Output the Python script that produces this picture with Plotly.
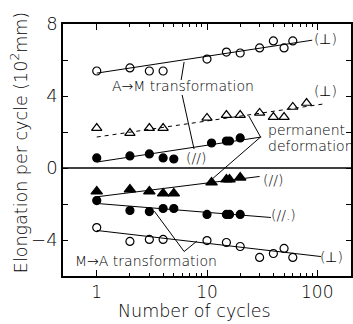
import math
import plotly.graph_objects as go

# Elongation per cycle (x10^2 mm) versus number of thermal cycles
cycles_am_perp = [1, 2, 3, 4, 10, 15, 20, 30, 40, 50, 60]
elong_am_perp = [5.39, 5.56, 5.39, 5.39, 6.05, 6.44, 6.39, 6.67, 7.06, 6.67, 7.06]

cycles_perm_perp = [1, 2, 3, 4, 10, 15, 20, 30, 40, 50, 60, 80]
elong_perm_perp = [2.22, 1.94, 2.22, 2.22, 2.78, 2.94, 2.94, 3.06, 2.83, 2.83, 3.39, 3.61]

cycles_am_par = [1, 2, 3, 4, 5, 11, 15, 16, 20]
elong_am_par = [0.56, 0.67, 0.78, 0.56, 0.5, 1.39, 1.5, 1.5, 1.67]

cycles_perm_par = [1, 2, 3, 4, 5, 11, 15, 16, 20]
elong_perm_par = [-1.3, -1.19, -1.3, -1.41, -1.41, -0.8, -0.64, -0.64, -0.53]

cycles_ma_par = [1, 2, 3, 4, 5, 10, 15, 16, 20]
elong_ma_par = [-1.81, -2.36, -2.42, -2.25, -2.25, -2.58, -2.58, -2.58, -2.58]

cycles_ma_perp = [1, 2, 3, 4, 10, 15, 20, 30, 40, 50, 60]
elong_ma_perp = [-3.31, -4.08, -3.97, -3.97, -4.03, -4.14, -4.36, -4.97, -4.75, -4.47, -4.97]

# straight trend lines (end points, log-x)
fit_am_perp_n, fit_am_perp_y = [1, 90], [5.27, 7.1]
fit_perm_perp_n, fit_perm_perp_y = [1, 115], [1.72, 3.56]
fit_am_par_n, fit_am_par_y = [1, 31], [0.33, 1.72]
fit_perm_par_n, fit_perm_par_y = [1, 30], [-1.6, -0.47]
fit_ma_par_n, fit_ma_par_y = [1, 38], [-1.97, -2.75]
fit_ma_perp_n, fit_ma_perp_y = [1, 108], [-3.47, -4.92]

y_ticks = [-6, -4, -2, 0, 2, 4, 6, 8]
y_tick_text = ["", "\u22124", "", "0", "", "4", "", "8"]
x_major = [1, 10, 100]
x_major_text = ["1", "10", "100"]
x_minor = [2, 3, 4, 5, 6, 7, 8, 9, 20, 30, 40, 50, 60, 70, 80, 90]

FONT = "DejaVu Sans"
WEIGHT = 200
INK = "black"

fig = go.Figure()


def line(xs, ys, dash="solid", width=1):
    fig.add_trace(go.Scatter(x=xs, y=ys, mode="lines",
                             line=dict(color=INK, width=width, dash=dash),
                             hoverinfo="skip", showlegend=False))


def points(xs, ys, symbol, size):
    fig.add_trace(go.Scatter(x=xs, y=ys, mode="markers",
                             marker=dict(symbol=symbol, size=size, color=INK,
                                         line=dict(color=INK, width=1.2)),
                             showlegend=False))


# trend lines
line(fit_am_perp_n, fit_am_perp_y)
line(fit_perm_perp_n, fit_perm_perp_y, dash="4px,4px")
line(fit_am_par_n, fit_am_par_y)
line(fit_perm_par_n, fit_perm_par_y)
line(fit_ma_par_n, fit_ma_par_y)
line(fit_ma_perp_n, fit_ma_perp_y)

# leader lines from the group labels
line([6.2, 5.83], [5.89, 4.89])
line([5.95, 7.63], [4.06, 1.05])
line([23.9, 30.6, 10.0], [2.9, 1.72, -0.86])
line([3.33, 6.2, 8.1], [-2.4, -4.64, -4.06])

# zero line
line([0.4, 250], [0, 0], width=1.5)

# data points
points(cycles_am_perp, elong_am_perp, "circle-open", 8)
points(cycles_perm_perp, elong_perm_perp, "triangle-up-open", 9)
points(cycles_am_par, elong_am_par, "circle", 8)
points(cycles_perm_par, elong_perm_par, "triangle-up", 10)
points(cycles_ma_par, elong_ma_par, "circle", 8)
points(cycles_ma_perp, elong_ma_perp, "circle-open", 8)

ann_font = dict(family=FONT, size=14, color=INK, weight=WEIGHT)
labels = [
    (118, 7.17, "(\u22a5)", "center"),
    (118, 4.28, "(\u22a5)", "center"),
    (7.96, 0.56, "(//)", "center"),
    (40, -0.67, "(//)", "center"),
    (49.3, -2.61, "(//.)", "center"),
    (136, -4.94, "(\u22a5)", "center"),
    (1.31, 4.56, "A\u2192M transformation", "left"),
    (34.1, 2.11, "permanent", "left"),
    (34.1, 1.22, "deformation", "left"),
    (0.61, -5.14, "M\u2192A transformation", "left"),
]
annotations = []
for n, yv, txt, anchor in labels:
    annotations.append(dict(x=math.log10(n), y=yv, xref="x", yref="y", text=txt,
                            showarrow=False, xanchor=anchor, yanchor="middle",
                            font=ann_font))

title_font = dict(family=FONT, size=17.5, color=INK, weight=WEIGHT)
annotations.append(dict(x=0.455, y=-0.137, xref="paper", yref="paper",
                        text="Number of cycles", showarrow=False,
                        xanchor="center", yanchor="middle", font=title_font))
annotations.append(dict(x=-0.152, y=0.528, xref="paper", yref="paper",
                        text="Elongation per cycle (10<sup>2</sup>mm)",
                        showarrow=False, textangle=-90,
                        xanchor="center", yanchor="middle", font=title_font))

fig.update_layout(
    width=353, height=324,
    margin=dict(l=63, r=0, t=24, b=48),
    paper_bgcolor="white", plot_bgcolor="white",
    annotations=annotations,
    showlegend=False,
)
fig.update_xaxes(
    type="log", range=[-0.306, 2.306],
    tickvals=x_major, ticktext=x_major_text,
    ticks="inside", ticklen=6, tickwidth=1, tickcolor=INK,
    minor=dict(tickvals=x_minor, ticks="inside", ticklen=3, tickwidth=1, tickcolor=INK),
    showline=True, linecolor=INK, linewidth=1.5, mirror="ticks",
    showgrid=False, zeroline=False,
    tickfont=dict(family=FONT, size=17, color=INK, weight=WEIGHT),
)
fig.update_yaxes(
    range=[-6, 8],
    tickvals=y_ticks, ticktext=y_tick_text,
    ticks="inside", ticklen=5, tickwidth=1, tickcolor=INK,
    showline=True, linecolor=INK, linewidth=1.5, mirror="ticks",
    showgrid=False, zeroline=False,
    tickfont=dict(family=FONT, size=18, color=INK, weight=WEIGHT),
)

fig.write_html("out.html")
